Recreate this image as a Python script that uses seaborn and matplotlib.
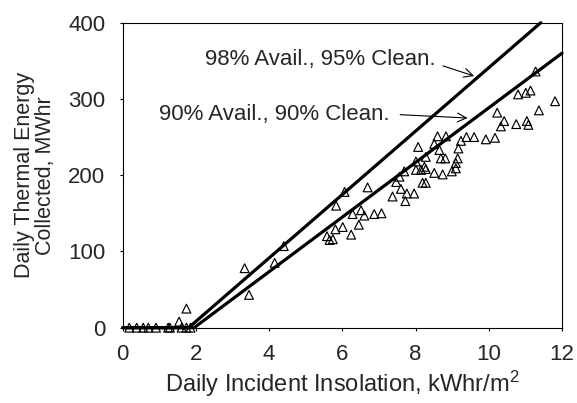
import pandas as pd
import matplotlib.pyplot as plt
import seaborn as sns

insolazione = [0.18, 0.38, 0.56, 0.70, 0.91, 1.24, 1.29, 1.61, 1.74, 1.85, 1.54, 1.74,
               3.33, 3.45, 4.15, 4.40, 5.58, 5.65, 5.74, 5.81, 6.01, 6.24, 6.45, 6.28,
               6.51, 6.60, 6.87, 7.07, 5.83, 6.06, 6.69, 7.37, 7.47, 7.56, 7.60, 7.69,
               7.72, 7.76, 7.96, 8.01, 8.01, 8.07, 8.15, 8.19, 8.28, 8.24, 8.28, 8.28,
               8.51, 8.60, 8.83, 8.65, 8.69, 8.81, 8.51, 8.74, 8.99, 9.10, 9.10, 9.15,
               9.17, 9.24, 9.39, 9.60, 9.92, 10.17, 10.23, 10.42, 10.33, 10.75, 11.04,
               11.08, 10.80, 11.01, 11.14, 11.81, 11.37, 11.28]
energia = [0, 0, 0, 0, 0, 0, 0, 0, 0, 0, 8, 25,
           78, 43, 85, 107, 120, 115, 116, 129, 132, 122, 135, 149,
           154, 147, 149, 150, 160, 178, 184, 172, 191, 198, 182, 205,
           166, 176, 176, 218, 207, 237, 207, 190, 190, 211, 208, 224,
           241, 251, 251, 233, 222, 222, 203, 201, 205, 209, 216, 222,
           235, 245, 250, 250, 247, 249, 282, 271, 264, 267, 271,
           266, 306, 308, 311, 297, 285, 336]

# Linee del modello
x_alta = [0, 1.8, 11.42]
y_alta = [0, 0, 400]
x_bassa = [0, 1.95, 12]
y_bassa = [0, 0, 360]

df_punti = pd.DataFrame({"x": insolazione, "y": energia})
df_alta = pd.DataFrame({"x": x_alta, "y": y_alta})
df_bassa = pd.DataFrame({"x": x_bassa, "y": y_bassa})

sns.set_style("ticks")
plt.rcParams["font.family"] = ["Liberation Sans", "DejaVu Sans"]
plt.rcParams["mathtext.fontset"] = "custom"
plt.rcParams["mathtext.rm"] = "Liberation Sans"
plt.rcParams["mathtext.default"] = "regular"

fig = plt.figure(figsize=(5.77, 4.03), dpi=100)
ax = fig.add_axes([0.2127, 0.1869, 0.7613, 0.7568])

sns.lineplot(data=df_alta, x="x", y="y", sort=False, color="black", linewidth=2.3,
             ax=ax, clip_on=False)
sns.lineplot(data=df_bassa, x="x", y="y", sort=False, color="black", linewidth=2.3,
             ax=ax, clip_on=False)
sns.scatterplot(data=df_punti, x="x", y="y", marker="^", s=40, facecolor="none",
                edgecolor="black", linewidth=0.85, ax=ax, clip_on=False, zorder=3)

ax.set_xlim(0, 12)
ax.set_ylim(0, 400)
ax.set_xticks([0, 2, 4, 6, 8, 10, 12])
ax.set_yticks([0, 100, 200, 300, 400])
ax.tick_params(labelsize=16, length=2.5, width=0.8, color="black")
ax.tick_params(axis="x", pad=9)
ax.tick_params(axis="y", pad=10)
for s in ax.spines.values():
    s.set_color("black")
    s.set_linewidth(0.8)

ax.set_xlabel("Daily Incident Insolation, kWhr/m$^2$", fontsize=17, labelpad=3)
ax.set_ylabel("Daily Thermal Energy\nCollected, MWhr", fontsize=15.5, labelpad=9,
              linespacing=0.95)

ax.annotate("98% Avail., 95% Clean.", xy=(9.6, 330), xytext=(2.25, 352),
            fontsize=16, va="center",
            arrowprops=dict(arrowstyle="->", color="black", lw=0.8, shrinkA=3, shrinkB=0,
                            relpos=(1.0, 0.3)))
ax.annotate("90% Avail., 90% Clean.", xy=(9.42, 275), xytext=(1.0, 280),
            fontsize=16, va="center",
            arrowprops=dict(arrowstyle="->", color="black", lw=0.8, shrinkA=5, shrinkB=0,
                            relpos=(1.0, 0.5)))

plt.savefig("out.png", dpi=100)
plt.close()
